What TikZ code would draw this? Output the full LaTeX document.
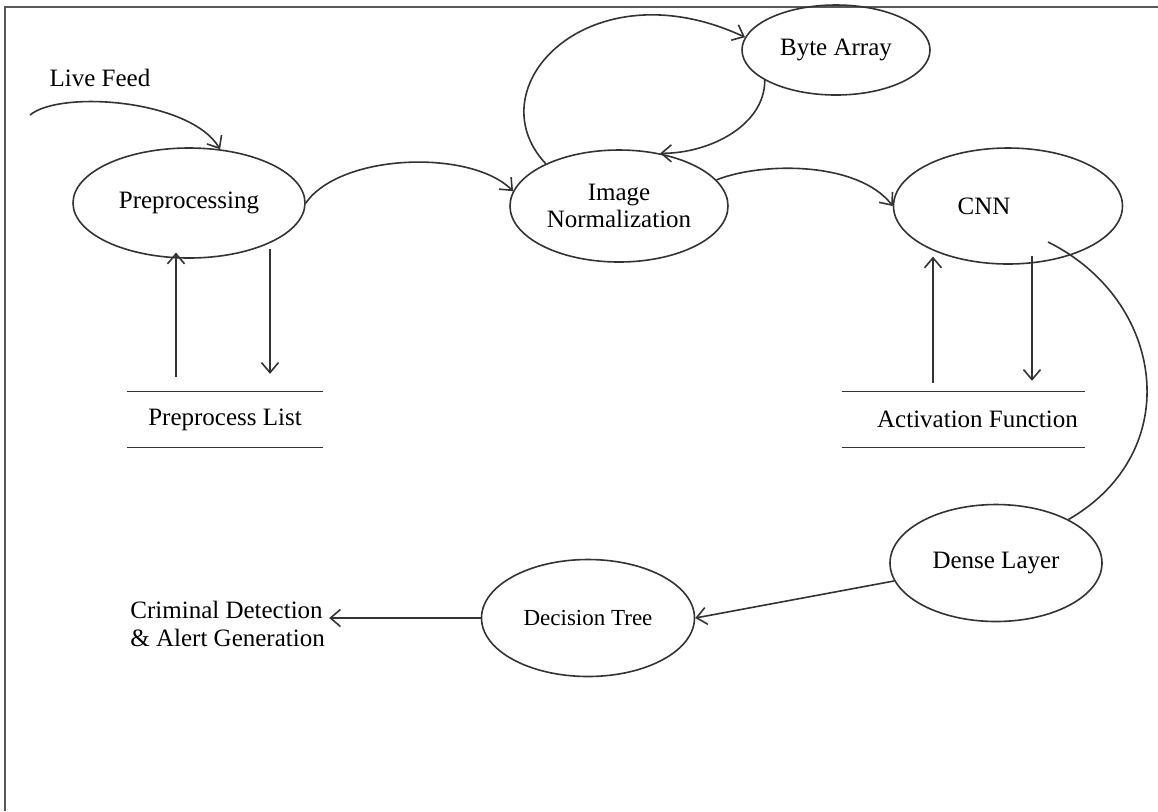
\documentclass[tikz,border=0pt]{standalone}
\usepackage{fontspec}
\setmainfont{Liberation Serif}
\usetikzlibrary{shapes.geometric, arrows.meta}

\begin{document}
\begin{tikzpicture}[x=0.5pt, y=-0.5pt, font=\fontsize{12.5}{13.5}\selectfont]
    \tikzstyle{process} = [ellipse, draw=black!80, line width=0.8pt, inner sep=0pt, align=center]
    \tikzstyle{store} = [inner sep=0pt, minimum height=27.5pt]
    \tikzstyle{link} = [draw=black!80, line width=0.8pt]
    \tikzstyle{arrow} = [link, ->, >={Straight Barb[length=5pt, width=8.5pt]}]
    \useasboundingbox (0,0) rectangle (1158,811);
    \draw[line width=1.2pt, black!65] (1158,7) -- (5,7) -- (5,811);

    \node[process, minimum width=116pt, minimum height=55pt] (pre) at (189,203) {Preprocessing};
    \node[process, minimum width=109pt, minimum height=56pt] (norm) at (619,206) {Image\\Normalization};
    \node[process, minimum width=94pt, minimum height=45pt] (byte) at (836,50) {Byte Array};
    \node[process, minimum width=114.5pt, minimum height=58pt] (cnn) at (1008,206) {CNN\hspace{24pt}};
    \node[process, minimum width=106pt, minimum height=58.5pt] (dense) at (996,563) {Dense Layer};
    \node[process, minimum width=106.5pt, minimum height=58.5pt, font=\fontsize{11.5}{13}\selectfont] (dtree) at (588,618) {Decision Tree};
    \node[store, minimum width=97.5pt] (prelist) at (225,419.5) {Preprocess List};
    \node[store, minimum width=121.5pt] (actlist) at (963.5,419.5) {\hspace{14pt}Activation Function};
    \node[inner sep=0pt, anchor=west, align=left, font=\fontsize{12.5}{14}\selectfont] (crim) at (130,624) {Criminal Detection\\\& Alert Generation};
    \node[inner sep=0pt] (feed) at (100,78) {Live Feed};
    \coordinate (feedin) at (30,115);

    % data stores
    \draw[link] (prelist.north west) -- (prelist.north east) (prelist.south west) -- (prelist.south east);
    \draw[link] (actlist.north west) -- (actlist.north east) (actlist.south west) -- (actlist.south east);

    \draw[arrow] (feedin) .. controls +(30,-25) and +(-30,-50) .. (pre.60);
    \draw[arrow] (pre.east) .. controls +(35,-50) and +(-42,-42) .. (norm.172);
    \draw[arrow] (norm.150) .. controls +(-72,-77) and +(-155,-72) .. (byte.172);
    \draw[arrow] (byte.203) .. controls +(0,45) and +(50,0) .. (norm.52);
    \draw[arrow] (norm.15) .. controls +(45,-18) and +(-35,-45) .. (cnn.west);

    \draw[arrow] ([xshift=-24.5pt, yshift=7.5pt]prelist.north) -- ++(0,-124);
    \draw[arrow] ([xshift=40.5pt, yshift=5pt]pre.south) -- ++(0,125);
    \draw[arrow] ([xshift=-15.25pt, yshift=4.5pt]actlist.north) -- ++(0,-126);
    \draw[arrow] ([xshift=12pt, yshift=4.5pt]cnn.south) -- ++(0,125);

    \draw[link] ([xshift=20pt, yshift=-18pt]cnn.center) .. controls +(117,58) and +(118,-68) .. (dense.31);
    \draw[arrow] (dense.190) -- (dtree.east);
    \draw[arrow] (dtree.west) -- ([xshift=2pt]dtree.west -| crim.east);
\end{tikzpicture}
\end{document}
